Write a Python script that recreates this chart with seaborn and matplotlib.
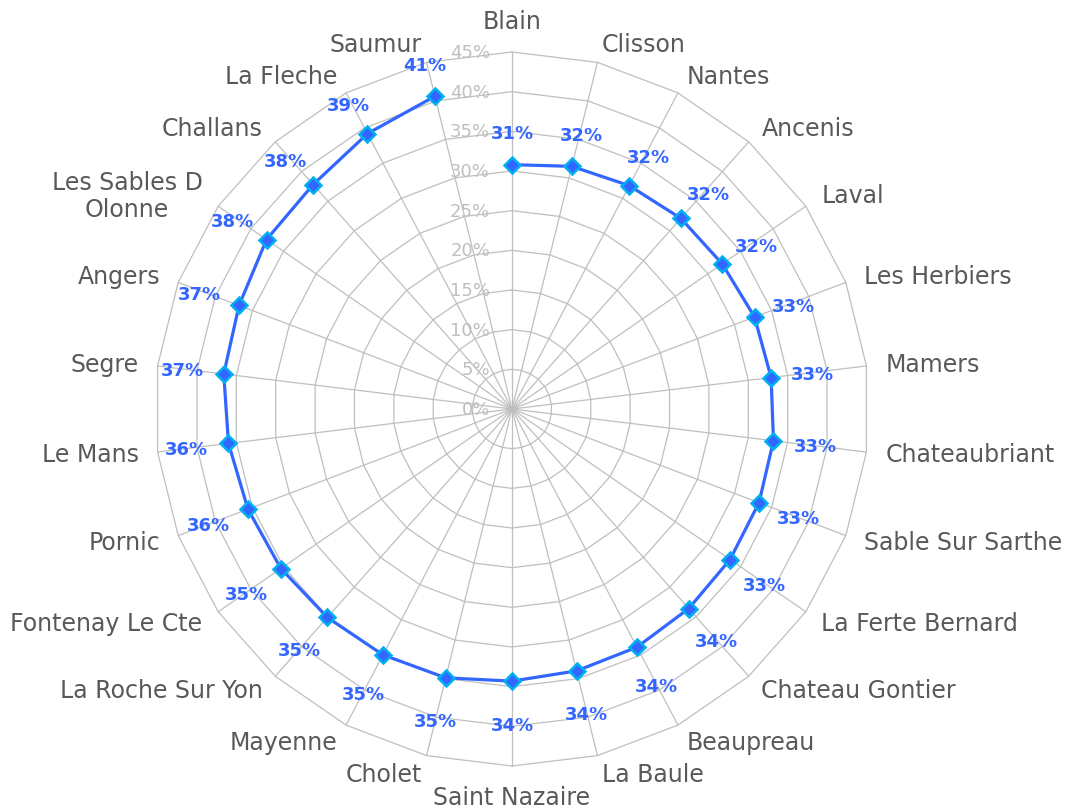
import numpy as np
import pandas as pd
import matplotlib.pyplot as plt
import seaborn as sns

# --- data ---
cities = [
    "Blain", "Clisson", "Nantes", "Ancenis", "Laval", "Les Herbiers", "Mamers",
    "Chateaubriant", "Sable Sur Sarthe", "La Ferte Bernard", "Chateau Gontier",
    "Beaupreau", "La Baule", "Saint Nazaire", "Cholet", "Mayenne",
    "La Roche Sur Yon", "Fontenay Le Cte", "Pornic", "Le Mans", "Segre", "Angers",
    "Les Sables D\nOlonne", "Challans", "La Fleche", "Saumur",
]
values = [
    30.8, 31.5, 31.8, 32.1, 32.2, 32.7, 32.9, 33.2, 33.3, 33.4, 33.6, 33.9, 34.0,
    34.3, 34.9, 35.0, 35.1, 35.4, 35.6, 36.0, 36.6, 36.8, 37.6, 37.8, 39.2, 40.6,
]
ticks = [0, 5, 10, 15, 20, 25, 30, 35, 40, 45]

# --- style ---
blue = "#3366FF"
edge = "#00B0F0"
grid_col = "#BFBFBF"
text_col = "#595959"

sns.set_theme(style="white")
plt.rcParams["font.family"] = ["DejaVu Sans"]

n = len(cities)
theta = np.arange(n) * 2 * np.pi / n
df = pd.DataFrame({"city": cities, "value": values, "theta": theta})
df["x"] = df["value"] * np.sin(df["theta"])
df["y"] = df["value"] * np.cos(df["theta"])

fig = plt.figure(figsize=(10.69, 8.12), dpi=100)
ax = fig.add_axes([0, 0, 1, 1])
ax.set_axis_off()

# centre at (512, 410) px, outer ring radius 357 px
rmax = ticks[-1]
scale = 357 / rmax
ax.set_xlim(-512 / scale, (1069 - 512) / scale)
ax.set_ylim(-(812 - 410) / scale, 410 / scale)

# polygon grid
closed = np.append(theta, theta[0])
for r in ticks[1:]:
    ax.plot(r * np.sin(closed), r * np.cos(closed), color=grid_col, lw=0.9, zorder=1)
for t in theta:
    ax.plot([0, rmax * np.sin(t)], [0, rmax * np.cos(t)], color=grid_col, lw=0.9, zorder=1)

# series
sns.lineplot(
    data=df, x="x", y="y", sort=False, estimator=None, ax=ax,
    color=blue, lw=2.3, marker="D", markersize=8,
    markerfacecolor=blue, markeredgecolor=edge, markeredgewidth=1.8, zorder=3,
)
ax.set_xlabel("")
ax.set_ylabel("")

# data labels
for _, row in df.iterrows():
    s, c = np.sin(row["theta"]), np.cos(row["theta"])
    dy = 32 * c if c > 0 else 44 * c
    ax.annotate(
        f"{row['value']:.0f}%", (row["x"], row["y"]),
        xytext=(42 * s, dy), textcoords="offset pixels",
        ha="center", va="center", fontsize=13, fontweight="bold",
        color=blue, zorder=4,
    )

# category labels
for name, t in zip(cities, theta):
    s, c = np.sin(t), np.cos(t)
    if abs(s) < 0.05:
        ha = "center"
    elif s > 0:
        ha = "left"
    else:
        ha = "right"
    if c > 0.98:
        va = "bottom"
    elif c < -0.98:
        va = "top"
    else:
        va = "center"
    ax.annotate(
        name, (rmax * s, rmax * c), xytext=(19 * s, 19 * c),
        textcoords="offset pixels", ha=ha, va=va, multialignment="center",
        fontsize=17, color=text_col,
    )

# radial tick labels
for t in ticks:
    ax.annotate(
        f"{t}%", (0, t), xytext=(-22, 0), textcoords="offset pixels",
        ha="right", va="center", fontsize=13, color=grid_col, zorder=2,
    )

fig.savefig("out.png", dpi=100)
